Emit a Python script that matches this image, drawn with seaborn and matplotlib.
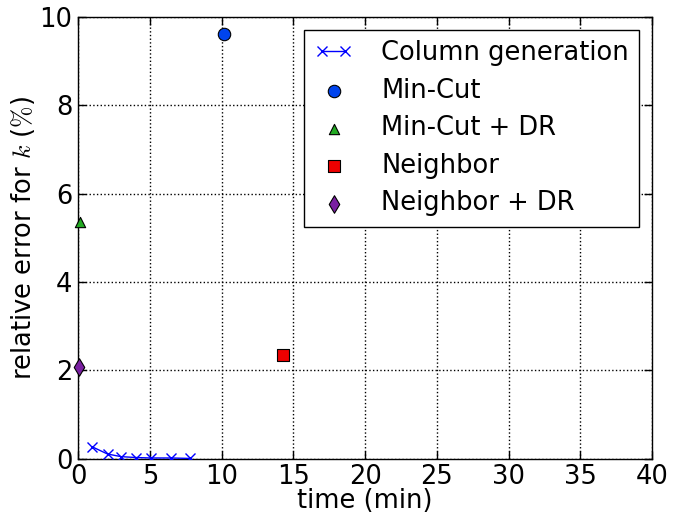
import numpy as np
import pandas as pd
import seaborn as sns
import matplotlib.pyplot as plt

# valores
cg_time = [1.0, 2.05, 3.0, 4.05, 5.05, 6.5, 7.8]
cg_err = [0.27, 0.11, 0.05, 0.03, 0.02, 0.02, 0.01]

point_labels = ["Min-Cut", "Min-Cut + DR", "Neighbor", "Neighbor + DR"]
point_time = [10.15, 0.12, 14.3, 0.07]
point_err = [9.62, 5.36, 2.35, 2.08]
point_markers = ["o", "^", "s", "d"]
point_colors = ["#0044ee", "#22aa22", "#ee0000", "#7a1fa2"]
point_sizes = [80, 55, 80, 80]

sns.set_style("ticks")
plt.rcParams['font.family'] = ['DejaVu Sans']
plt.rcParams['mathtext.fontset'] = 'cm'
plt.rcParams['xtick.direction'] = 'in'
plt.rcParams['ytick.direction'] = 'in'
for k in ['text.color', 'axes.labelcolor', 'xtick.color', 'ytick.color']:
    plt.rcParams[k] = 'black'

fig = plt.figure(figsize=(6.85, 5.15), dpi=100)
ax = fig.add_axes([0.114, 0.109, 0.838, 0.858])

cg = pd.DataFrame({'time': cg_time, 'err': cg_err})
sns.lineplot(data=cg, x='time', y='err', marker='x', color='blue', linewidth=1,
             markersize=7, markeredgewidth=1, markeredgecolor='blue',
             label='Column generation', ax=ax, zorder=3)

for lab, t, e, m, c, s in zip(point_labels, point_time, point_err,
                              point_markers, point_colors, point_sizes):
    sns.scatterplot(x=[t], y=[e], marker=m, color=c, s=s, edgecolor='black',
                    linewidth=0.8, label=lab, ax=ax, zorder=4, clip_on=False)

ax.set_xlim(0, 40)
ax.set_ylim(0, 10)
ax.set_xticks(np.arange(0, 41, 5))
ax.set_yticks(np.arange(0, 11, 2))
ax.grid(True, color='black', linestyle=':', linewidth=1)
ax.tick_params(labelsize=18.5, top=True, right=True, length=6, width=1, pad=4)
for sp in ax.spines.values():
    sp.set_linewidth(1)
    sp.set_color('black')

ax.set_xlabel('time (min)', fontsize=18.5, labelpad=-1.5)
ax.set_ylabel(r'relative error for $k$ ($\%$)', fontsize=18.5, labelpad=2)

leg = ax.legend(loc='upper right', fontsize=18.5, numpoints=2, scatterpoints=1,
                handlelength=1.5, handletextpad=1.1, labelspacing=0.45,
                borderaxespad=0.5, frameon=True, fancybox=False, framealpha=1)
leg.get_frame().set_edgecolor('black')
leg.get_frame().set_linewidth(1)

plt.savefig('out.png', dpi=100)
